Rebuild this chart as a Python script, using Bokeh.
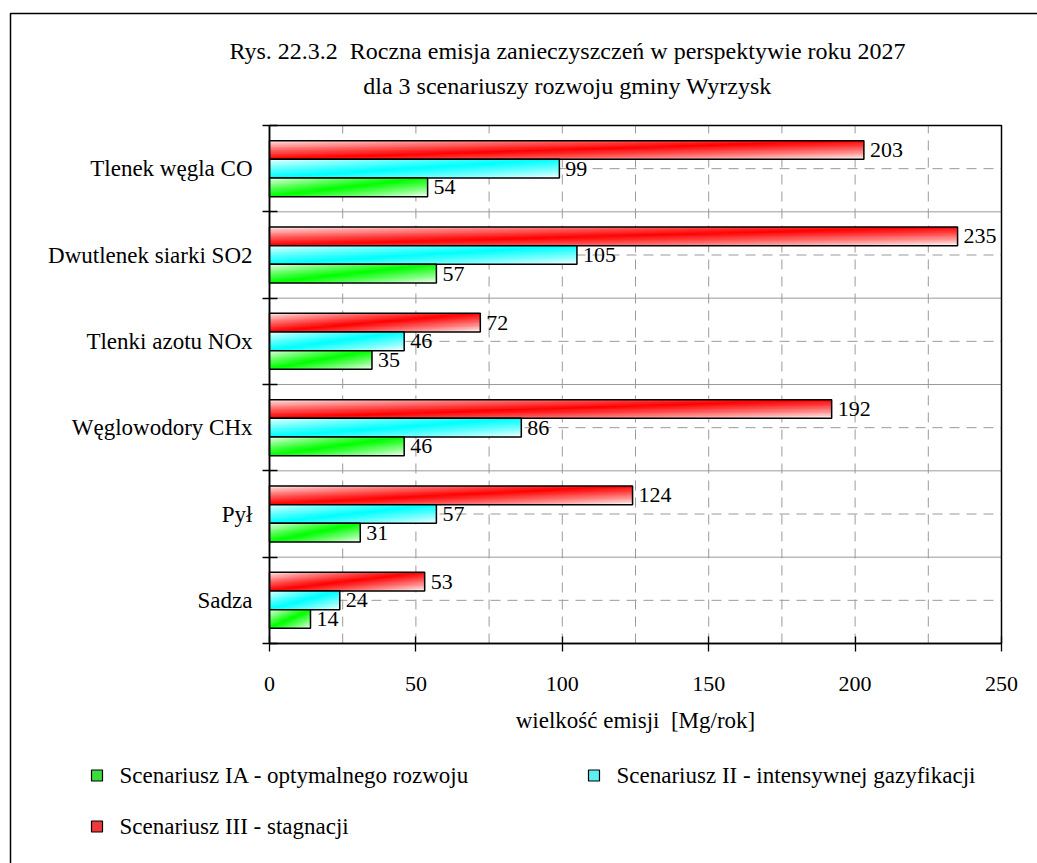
import numpy as np
from bokeh.plotting import figure
from bokeh.models import ColumnDataSource, FixedTicker, Range1d, Label, BoxAnnotation
from bokeh.embed import file_html
from bokeh.resources import INLINE
from bokeh.core.properties import value

# ---------------- data ----------------
categories = ["Tlenek węgla CO", "Dwutlenek siarki SO2", "Tlenki azotu NOx",
              "Węglowodory CHx", "Pył", "Sadza"]
scen_ia = [54, 57, 35, 46, 31, 14]        # Scenariusz IA (green)
scen_ii = [99, 105, 46, 86, 57, 24]       # Scenariusz II (cyan)
scen_iii = [203, 235, 72, 192, 124, 53]   # Scenariusz III (red)
series_names = ["Scenariusz IA - optymalnego rozwoju",
                "Scenariusz II - intensywnej gazyfikacji",
                "Scenariusz III - stagnacji"]
x_ticks = [0, 50, 100, 150, 200, 250]
x_grid_ticks = [25, 50, 75, 100, 125, 150, 175, 200, 225]
title_lines = ["Rys. 22.3.2\u00a0\u00a0Roczna emisja zanieczyszczeń w perspektywie roku 2027",
               "dla 3 scenariuszy rozwoju gminy Wyrzysk"]
x_label = "wielkość emisji\u00a0\u00a0[Mg/rok]"

# ---------------- layout (pixels) ----------------
W, H = 1037, 863
FL, FR, FT, FB = 269, 1001, 125, 643      # plot area box
FONT = "Liberation Serif"
FS_NUM = "22px"
FS_TXT = "23px"
FS_TITLE = "24px"
GRID = "#9a9a9a"

n = len(categories)
x0, x1 = x_ticks[0], x_ticks[-1]
PX_X = (FR - FL) / (x1 - x0)
PX_Y = (FB - FT) / n

p = figure(width=W, height=H,
           x_range=Range1d(x0 - FL / PX_X, x1 + (W - FR) / PX_X),
           y_range=Range1d(-(H - FB) / PX_Y, n + FT / PX_Y),
           output_backend="svg", toolbar_location=None,
           min_border_left=0, min_border_right=0, min_border_top=0, min_border_bottom=0)
p.title = None
p.background_fill_color = "white"
p.border_fill_color = "white"
p.outline_line_color = None
p.grid.visible = False

def sx(cx):
    return cx

def sy(cy):
    return H - cy

centers = [n - i - 0.5 for i in range(n)]
bounds = list(range(n + 1))

# ---- grid (drawn under the bars) ----
p.segment(x0=x_grid_ticks, x1=x_grid_ticks, y0=[0] * len(x_grid_ticks), y1=[n] * len(x_grid_ticks),
          line_color=GRID, line_width=1, line_dash="10 7", level="underlay")
p.segment(x0=[x0] * n, x1=[x1] * n, y0=centers, y1=centers,
          line_color=GRID, line_width=1, line_dash="10 7", level="underlay")
p.segment(x0=[x0] * (n - 1), x1=[x1] * (n - 1), y0=bounds[1:-1], y1=bounds[1:-1],
          line_color=GRID, line_width=1, level="underlay")
p.quad(left=[x0], right=[x1], bottom=[0], top=[n], fill_color=None,
       line_color="black", line_width=1.5)

# ---- y axis (fixed at x = 0) ----
yt = FixedTicker(ticks=centers, minor_ticks=bounds)
p.yaxis.fixed_location = x0
p.yaxis.bounds = (0, n)
p.yaxis.ticker = yt
p.yaxis.major_label_overrides = {c: cat for c, cat in zip(centers, categories)}
p.yaxis.major_tick_in = 0
p.yaxis.major_tick_out = 0
p.yaxis.minor_tick_in = 8
p.yaxis.minor_tick_out = 7
p.yaxis.minor_tick_line_color = "black"
p.yaxis.minor_tick_line_width = 1.3
p.yaxis.axis_line_color = "black"
p.yaxis.axis_line_width = 1.5
p.yaxis.major_label_standoff = 10
p.yaxis.major_label_text_font = FONT
p.yaxis.major_label_text_font_size = FS_TXT
p.yaxis.major_label_text_color = "black"

# ---- x axis (fixed at y = 0) ----
p.xaxis.fixed_location = 0
p.xaxis.bounds = (x0, x1)
p.xaxis.ticker = FixedTicker(ticks=x_ticks, minor_ticks=[])
p.xaxis.major_tick_in = 7
p.xaxis.major_tick_out = 8
p.xaxis.major_tick_line_width = 1.3
p.xaxis.minor_tick_in = 0
p.xaxis.minor_tick_out = 0
p.xaxis.axis_line_width = 1.5
p.xaxis.major_label_standoff = 25
p.xaxis.major_label_text_font = FONT
p.xaxis.major_label_text_font_size = FS_NUM
p.xaxis.major_label_text_color = "black"
p.xaxis.axis_label = x_label
p.xaxis.axis_label_text_font = FONT
p.xaxis.axis_label_text_font_size = FS_TXT
p.xaxis.axis_label_text_font_style = "normal"
p.xaxis.axis_label_text_color = "black"
p.xaxis.axis_label_standoff = 14

# ---- bars with gradient fill ----
def gradient(rgb, w=256, h=24):
    u = np.linspace(0, 1, w)[None, :]
    v = np.linspace(0, 1, h)[:, None]
    t = np.clip(1 - np.abs(u - v), 0, 1) ** 0.8
    img = np.empty((h, w, 4), dtype=np.uint8)
    for k in range(3):
        img[..., k] = np.round(255 * (1 - t) + rgb[k] * t).astype(np.uint8)
    img[..., 3] = 255
    return img.view(np.uint32).reshape(h, w)

BH = 0.216
series = [
    (scen_iii, (255, 0, 0), BH),
    (scen_ii, (0, 255, 255), 0.0),
    (scen_ia, (0, 255, 0), -BH),
]
for vals, rgb, off in series:
    g = gradient(rgb)
    ys = [c + off for c in centers]
    src = ColumnDataSource(dict(image=[g] * n, x=[x0] * n, y=[y - BH / 2 for y in ys],
                                dw=vals, dh=[BH] * n))
    p.image_rgba(image="image", x="x", y="y", dw="dw", dh="dh", source=src)
    p.hbar(y=ys, left=x0, right=vals, height=BH, fill_color=None,
           line_color="black", line_width=1.5)
    p.text(x=vals, y=ys, text=[str(v) for v in vals], x_offset=6,
           text_baseline="middle", text_align="left",
           text_font=value(FONT), text_font_size=FS_NUM, text_color="black")

# ---- title ----
for line, cy in zip(title_lines, [50, 85]):
    p.add_layout(Label(x=sx(567), y=sy(cy), x_units="screen", y_units="screen",
                       text=line, text_align="center", text_baseline="middle",
                       text_font=FONT, text_font_size=FS_TITLE, text_color="black"))

# ---- legend ----
leg_pos = [(91, 775), (588, 775), (91, 826)]
leg_cols = ["#3ddc3d", "#5ef0f0", "#ee3a3a"]
for name, (cx, cy), col in zip(series_names, leg_pos, leg_cols):
    p.add_layout(BoxAnnotation(left=sx(cx), right=sx(cx + 11), top=sy(cy - 5.5),
                               bottom=sy(cy + 5.5), left_units="screen", right_units="screen",
                               top_units="screen", bottom_units="screen",
                               fill_color=col, fill_alpha=1, line_color="black",
                               line_alpha=1, line_width=1.2, level="overlay"))
    p.add_layout(Label(x=sx(cx + 28), y=sy(cy), x_units="screen", y_units="screen",
                       text=name, text_align="left", text_baseline="middle",
                       text_font=FONT, text_font_size=FS_TXT, text_color="black"))

# ---- outer border of the figure box ----
p.add_layout(BoxAnnotation(left=sx(10), right=sx(W + 40), top=sy(13), bottom=sy(H + 40),
                           left_units="screen", right_units="screen",
                           top_units="screen", bottom_units="screen",
                           fill_alpha=0, line_color="black", line_alpha=1,
                           line_width=1.5, level="overlay"))

open("out.html", "w").write(file_html(p, INLINE))
